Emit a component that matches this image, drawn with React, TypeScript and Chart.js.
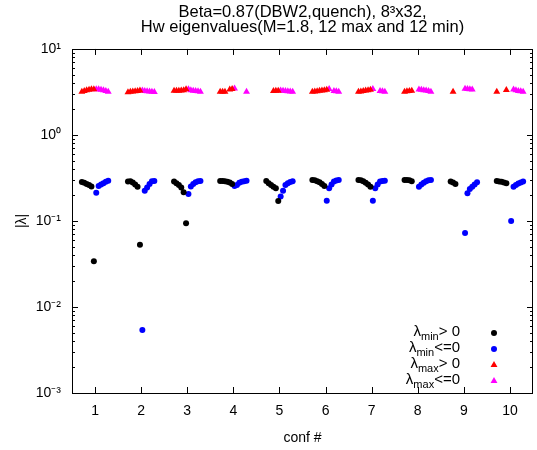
import { useEffect, useRef } from "react";
import { Chart, registerables } from "chart.js";

Chart.register(...registerables);

const FONT = "'Liberation Sans', Arial, Helvetica, sans-serif";

const TITLE_LINES = [
  "Beta=0.87(DBW2,quench), 8³x32,",
  "Hw eigenvalues(M=1.8, 12 max and 12 min)",
];
const X_TITLE = "conf #";
const Y_TITLE = "|λ|";
const CONFS = [1, 2, 3, 4, 5, 6, 7, 8, 9, 10];
const Y_TICKS = [0.001, 0.01, 0.1, 1, 10];
const Y_TICK_LABELS = ["10⁻³", "10⁻²", "10⁻¹", "10⁰", "10¹"];

// legend: λ + subscript + relation
const LEGEND_SUBS = ["min", "min", "max", "max"];
const LEGEND_RELS = ["> 0", "<=0", "> 0", "<=0"];
const SERIES_COLORS = ["#000000", "#0000ff", "#ff0000", "#ff00ff"];
const SERIES_STYLES = ["circle", "circle", "triangle", "triangle"];

// 12 lowest eigenvalues per configuration (signed, in plotted slot order; null = no mark)
const LAMBDA_MIN: (number | null)[][] = [
  [0.284, 0.278, 0.27, 0.262, 0.252, 0.034, -0.213, -0.255, -0.265, -0.275, -0.285, -0.294],
  [0.287, 0.29, 0.28, 0.265, 0.25, 0.053, -0.0054, -0.225, -0.245, -0.27, -0.29, -0.291],
  [0.287, 0.275, 0.262, 0.245, 0.216, 0.094, -0.206, -0.251, -0.27, -0.282, -0.289, -0.291],
  [0.292, 0.291, 0.289, 0.286, 0.28, 0.27, -0.255, -0.262, -0.279, -0.285, -0.29, -0.294],
  [0.291, 0.275, 0.262, 0.25, 0.24, 0.171, -0.192, -0.225, -0.262, -0.275, -0.283, -0.29],
  [0.3, 0.298, 0.29, 0.282, 0.27, 0.255, -0.172, -0.24, -0.265, -0.287, -0.295, -0.3],
  [0.3, 0.298, 0.29, 0.279, 0.265, 0.25, -0.172, -0.24, -0.265, -0.287, -0.292, -0.294],
  [0.3, 0.3, 0.298, 0.29, null, null, -0.25, -0.265, -0.279, -0.29, -0.298, -0.3],
  [0.288, 0.28, 0.27, null, null, null, -0.0725, -0.21, -0.235, -0.25, -0.265, -0.282],
  [0.291, 0.288, 0.285, 0.28, 0.275, null, -0.1, -0.25, -0.262, -0.272, -0.28, -0.287],
];

// 12 highest eigenvalues per configuration (signed, in plotted slot order; null = no mark)
const LAMBDA_MAX: (number | null)[][] = [
  [3.19, 3.25, 3.32, 3.36, 3.4, 3.4, -3.4, -3.4, -3.36, -3.32, -3.25, -3.19],
  [3.14, 3.17, 3.2, 3.22, 3.25, 3.28, -3.28, -3.25, -3.22, -3.2, -3.18, -3.16],
  [3.26, 3.27, 3.27, 3.28, 3.32, 3.4, -3.4, -3.32, -3.27, -3.25, -3.22, -3.19],
  [3.19, 3.19, 3.19, null, 3.38, 3.42, -3.46, null, null, null, null, -3.19],
  [null, null, null, 3.25, 3.27, 3.27, -3.28, -3.27, -3.25, -3.22, -3.2, -3.19],
  [3.19, 3.2, 3.23, 3.26, 3.29, 3.32, 3.36, -3.42, null, -3.25, -3.22, -3.19],
  [3.19, 3.21, 3.24, 3.28, 3.32, 3.36, -3.42, null, null, -3.25, -3.22, -3.19],
  [3.19, 3.22, 3.25, 3.27, null, null, -3.38, -3.36, -3.32, -3.28, -3.25, -3.19],
  [null, 3.19, null, null, null, null, -3.45, -3.42, -3.4, -3.38, null, null],
  [3.19, null, null, null, 3.33, null, null, -3.38, -3.3, -3.25, -3.22, -3.19],
];

const SLOT = 0.052; // spacing of eigenvalue slot within a configuration (x units)

function splitBySign(rows: (number | null)[][]) {
  const pos: { x: number; y: number }[] = [];
  const neg: { x: number; y: number }[] = [];
  rows.forEach((vals, c) => {
    vals.forEach((v, i) => {
      if (v === null) return;
      const pt = { x: CONFS[c] + (i - (vals.length - 1) / 2) * SLOT, y: Math.abs(v) };
      (v > 0 ? pos : neg).push(pt);
    });
  });
  return [pos, neg];
}

function drawMarker(ctx: CanvasRenderingContext2D, style: string, x: number, y: number, color: string) {
  ctx.save();
  ctx.fillStyle = color;
  ctx.beginPath();
  if (style === "circle") {
    ctx.arc(x, y, 3, 0, Math.PI * 2);
  } else {
    const r = 4;
    ctx.moveTo(x, y - r);
    ctx.lineTo(x + 0.866 * r, y + 0.5 * r);
    ctx.lineTo(x - 0.866 * r, y + 0.5 * r);
    ctx.closePath();
  }
  ctx.fill();
  ctx.restore();
}

const framePlugin = {
  id: "gpFrame",
  afterDatasetsDraw(chart: any) {
    const { ctx, chartArea } = chart;
    const { left, right, top, bottom } = chartArea;
    const xs = chart.scales.x;
    const ys = chart.scales.y;
    ctx.save();
    ctx.strokeStyle = "#000";
    ctx.lineWidth = 1;
    ctx.beginPath();
    ctx.rect(Math.round(left) + 0.5, Math.round(top) + 0.5, Math.round(right - left) - 1, Math.round(bottom - top));
    ctx.stroke();
    ctx.beginPath();
    for (let d = -3; d <= 1; d++) {
      const yv = Math.round(ys.getPixelForValue(Math.pow(10, d))) + 0.5;
      ctx.moveTo(left, yv);
      ctx.lineTo(left + 6, yv);
      ctx.moveTo(right, yv);
      ctx.lineTo(right - 6, yv);
      if (d < 1) {
        for (let m = 2; m <= 9; m++) {
          const ym = Math.round(ys.getPixelForValue(m * Math.pow(10, d))) + 0.5;
          ctx.moveTo(left, ym);
          ctx.lineTo(left + 3, ym);
          ctx.moveTo(right, ym);
          ctx.lineTo(right - 3, ym);
        }
      }
    }
    CONFS.forEach((c) => {
      const xv = Math.round(xs.getPixelForValue(c)) + 0.5;
      ctx.moveTo(xv, bottom);
      ctx.lineTo(xv, bottom - 6);
      ctx.moveTo(xv, top);
      ctx.lineTo(xv, top + 6);
    });
    ctx.stroke();
    ctx.restore();
  },
};

const legendPlugin = {
  id: "gpLegend",
  afterDraw(chart: any) {
    const { ctx, chartArea } = chart;
    const textRight = chartArea.right - 73;
    const symX = chartArea.right - 39;
    const y0 = chartArea.bottom - 61;
    ctx.save();
    ctx.fillStyle = "#000";
    ctx.textBaseline = "middle";
    ctx.textAlign = "left";
    for (let k = 0; k < LEGEND_SUBS.length; k++) {
      const y = y0 + k * 16;
      ctx.font = `15px ${FONT}`;
      const wRel = ctx.measureText(LEGEND_RELS[k]).width;
      const wL = ctx.measureText("λ").width;
      ctx.font = `11px ${FONT}`;
      const wSub = ctx.measureText(LEGEND_SUBS[k]).width;
      const xRel = textRight - wRel;
      const xSub = xRel - wSub;
      const xL = xSub - wL;
      ctx.font = `15px ${FONT}`;
      ctx.fillStyle = "#000";
      ctx.fillText("λ", xL, y);
      ctx.fillText(LEGEND_RELS[k], xRel, y);
      ctx.font = `11px ${FONT}`;
      ctx.fillText(LEGEND_SUBS[k], xSub, y + 5);
      drawMarker(ctx, SERIES_STYLES[k], symX, y + 1, SERIES_COLORS[k]);
    }
    ctx.restore();
  },
};

export default function App() {
  const ref = useRef<HTMLCanvasElement | null>(null);
  useEffect(() => {
    if (!ref.current) return;
    const [minPos, minNeg] = splitBySign(LAMBDA_MIN);
    const [maxPos, maxNeg] = splitBySign(LAMBDA_MAX);
    const seriesData = [minPos, minNeg, maxPos, maxNeg];
    const datasets = seriesData.map((d, k) => ({
      label: "λ" + LEGEND_SUBS[k] + LEGEND_RELS[k],
      data: d,
      showLine: false,
      pointStyle: SERIES_STYLES[k],
      pointRadius: SERIES_STYLES[k] === "circle" ? 3 : 4,
      pointBorderWidth: 0,
      pointBackgroundColor: SERIES_COLORS[k],
      pointBorderColor: SERIES_COLORS[k],
      backgroundColor: SERIES_COLORS[k],
      borderColor: SERIES_COLORS[k],
    }));
    const chart = new Chart(ref.current, {
      type: "scatter",
      data: { datasets } as any,
      options: {
        responsive: false,
        animation: false,
        devicePixelRatio: 1,
        layout: { padding: { top: 0, right: 1, bottom: 0, left: 0 } },
        plugins: {
          legend: { display: false },
          tooltip: { enabled: false },
          title: {
            display: true,
            text: TITLE_LINES,
            fullSize: false,
            color: "#000",
            font: { family: FONT, size: 16.5, weight: "normal", lineHeight: 0.92 },
            padding: { top: 5, bottom: 13.6 },
          },
        },
        scales: {
          x: {
            type: "linear",
            min: 0.5,
            max: 10.5,
            afterBuildTicks: (s: any) => {
              s.ticks = CONFS.map((v) => ({ value: v }));
            },
            afterFit: (s: any) => {
              s.height = 57;
            },
            ticks: {
              color: "#000",
              font: { family: FONT, size: 14 },
              padding: 10,
              maxRotation: 0,
              callback: (v: any) => String(v),
            },
            grid: { display: false, drawTicks: false },
            border: { display: false },
            title: {
              display: true,
              text: X_TITLE,
              color: "#000",
              font: { family: FONT, size: 14 },
              padding: { top: 0, bottom: 3 },
            },
          },
          y: {
            type: "logarithmic",
            min: 0.001,
            max: 10,
            afterBuildTicks: (s: any) => {
              s.ticks = Y_TICKS.map((v) => ({ value: v }));
            },
            afterFit: (s: any) => {
              s.width = 72;
            },
            ticks: {
              color: "#000",
              font: { family: FONT, size: 14 },
              padding: 11,
              callback: (v: any) => {
                const i = Y_TICKS.findIndex((t) => Math.abs(t - v) / t < 1e-6);
                return i >= 0 ? Y_TICK_LABELS[i] : "";
              },
            },
            grid: { display: false, drawTicks: false },
            border: { display: false },
            title: {
              display: true,
              text: Y_TITLE,
              color: "#000",
              font: { family: FONT, size: 14 },
              padding: { top: 14, bottom: 0 },
            },
          },
        },
      },
      plugins: [framePlugin, legendPlugin],
    } as any);
    return () => chart.destroy();
  }, []);
  return (
    <div style={{ position: "absolute", left: 0, top: 0, width: 537, height: 450, background: "#fff" }}>
      <canvas ref={ref} width={537} height={450} style={{ display: "block" }} />
    </div>
  );
}
